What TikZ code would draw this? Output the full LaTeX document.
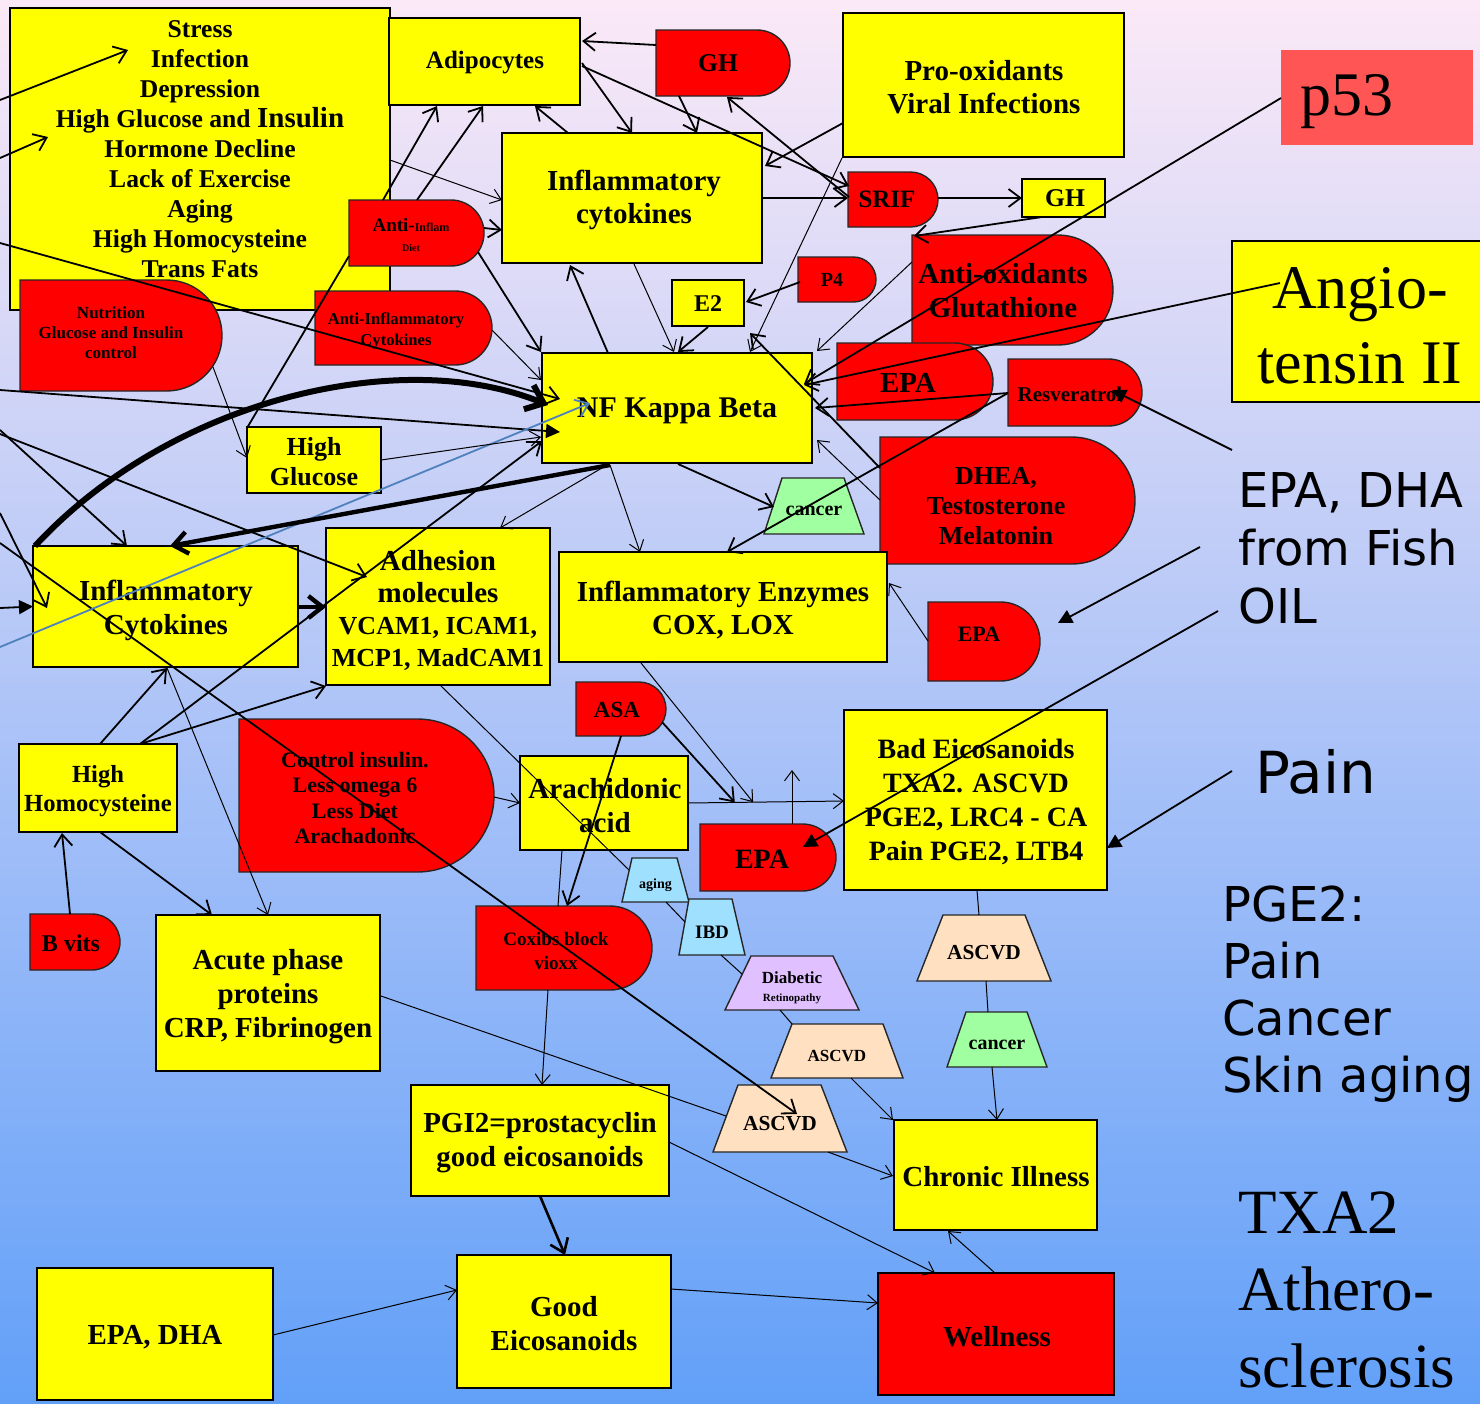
\documentclass[tikz,border=0pt]{standalone}
\usepackage{fontspec}
\setmainfont{Liberation Serif}
\setsansfont{DejaVu Sans}
\usetikzlibrary{calc,arrows.meta}
\definecolor{yel}{HTML}{FFFF00}
\definecolor{rd}{HTML}{FF0000}
\definecolor{p53c}{HTML}{FF5555}
\definecolor{grn}{HTML}{A0FFA0}
\definecolor{pch}{HTML}{FFE0C0}
\definecolor{lblu}{HTML}{A0E0FF}
\definecolor{lav}{HTML}{E0C0FF}
\definecolor{bline}{HTML}{4F81BD}
\definecolor{bgtop}{HTML}{FBE9F7}
\definecolor{bgmid}{HTML}{A6C9F3}
\definecolor{bgbot}{HTML}{62A0F8}
\newcommand\fsz[2]{\fontsize{#1}{#2}\selectfont}
% rectangle box: name, left, top, right, bottom, style, {text x,text y}, font, text
\newcommand\rbx[9]{%
  \path[bl,#6] (#2,#3) rectangle (#4,#5);
  \node[px={#4-#2}{#5-#3}] (#1) at ({(#2+#4)/2},{(#3+#5)/2}) {};
  \node[lab, font=\bfseries#8] (#1t) at (#7) {#9};}
% D shape (round right side)
\newcommand\dbx[9]{%
  \path[dl,#6] (#2,#3) -- ({#4-(#5-#3)/2},#3) arc[start angle=-90,end angle=90,radius={(#5-#3)/2}] -- (#2,#5) -- cycle;
  \node[px={#4-#2}{#5-#3}] (#1) at ({(#2+#4)/2},{(#3+#5)/2}) {};
  \node[lab, font=\bfseries#8] (#1t) at (#7) {#9};}
% trapezoid: name, top-left x, top-right x, bottom-left x, bottom-right x, top y, bottom y, style, text
\newcommand\tbx[9]{%
  \path[dl,#8] (#2,#6) -- (#3,#6) -- (#5,#7) -- (#4,#7) -- cycle;
  \node[px={#5-#4}{#7-#6}] (#1) at ({(#4+#5)/2},{(#6+#7)/2}) {};
  \node[lab] (#1t) at ({(#4+#5)/2},{(#6+#7)/2+5}) {#9};}
\begin{document}
\begin{tikzpicture}[x=0.5pt,y=-0.5pt,
  px/.style 2 args={minimum width={(#1)*0.5pt}, minimum height={(#2)*0.5pt}, inner sep=0pt, outer sep=0pt},
  lab/.style={inner sep=0pt, outer sep=0pt, align=center, font=\bfseries},
  bl/.style={draw=black, line width=1pt},
  dl/.style={draw=black!85, line width=0.7pt},
  ca/.style={line width=0.9pt, -{Straight Barb[length=6pt,width=9pt]}},
  ct/.style={line width=0.5pt, -{Straight Barb[length=5pt,width=7.5pt]}},
  cl/.style={line width=0.5pt},
  cmid/.style={line width=1.3pt, -{Straight Barb[length=6.5pt,width=9.5pt]}},
  ctri/.style={line width=0.9pt, -{Triangle[length=7pt,width=7pt]}},
  cblue/.style={line width=0.9pt, draw=bline, -{Straight Barb[length=6pt,width=9pt]}},
  cthick/.style={line width=3pt, -{Straight Barb[length=8pt,width=13pt]}},
  cthickb/.style={line width=2.2pt, -{Straight Barb[length=7pt,width=11pt]}}]
\useasboundingbox (0,0) rectangle (1480,1404);
\shade[top color=bgtop, middle color=bgmid, bottom color=bgbot] (0,0) rectangle (1480,1404);

% ---------- nodes ----------
\rbx{stress}{10}{8}{390}{310}{fill=yel}{200,149}{\fsz{12.8}{15}}{Stress\\Infection\\Depression\\High Glucose and {\fsz{14.5}{15}Insulin}\\Hormone Decline\\Lack of Exercise\\Aging\\High Homocysteine\\Trans Fats}
\rbx{adipo}{389}{18}{580}{105}{fill=yel}{485,63}{\fsz{12.5}{14}}{Adipocytes}
\dbx{ghtop}{656}{30}{790}{96}{fill=rd}{718,63}{\fsz{12.8}{14}}{GH}
\rbx{prox}{843}{13}{1124}{157}{fill=yel}{984,87}{\fsz{14.5}{16.5}}{Pro-oxidants\\Viral Infections}
\rbx{p53}{1281}{50}{1473}{145}{fill=p53c,draw=none}{1347,102}{\mdseries\fsz{31}{31}}{p53}
\rbx{iclu}{502}{133}{762}{263}{fill=yel}{634,200}{\fsz{14.5}{16.5}}{Inflammatory\\cytokines}
\dbx{srif}{848}{172}{938}{227}{fill=rd}{887,199}{\fsz{12.5}{14}}{SRIF}
\rbx{ghs}{1022}{179}{1105}{217}{fill=yel}{1065,198}{\fsz{12.8}{14}}{GH}
\dbx{aid}{349}{200}{484}{266}{fill=rd}{411,235}{\fsz{9.5}{10}}{Anti-{\fsz{6}{6}Inflam}\\{\fsz{5}{7}Diet}}
\dbx{aox}{912}{235}{1113}{345}{fill=rd}{1003,291}{\fsz{14.5}{17}}{Anti-oxidants\\Glutathione}
\rbx{angio}{1232}{241}{1492}{402}{fill=yel}{1360,326}{\mdseries\fsz{31}{37.5}}{Angio-\\tensin II}
\dbx{nutr}{20}{280}{222}{391}{fill=rd}{111,333}{\fsz{8.5}{10}}{Nutrition\\Glucose and Insulin\\control}
\dbx{aic}{315}{291}{492}{365}{fill=rd}{396,331}{\fsz{8.3}{10.5}}{Anti-Inflammatory\\Cytokines}
\dbx{p4}{798}{257}{876}{302}{fill=rd}{832,280}{\fsz{10}{11}}{P4}
\rbx{e2}{672}{280}{744}{326}{fill=yel}{708,304}{\fsz{12}{13}}{E2}
\rbx{nf}{542}{353}{812}{463}{fill=yel}{677,411}{\fsz{15}{16}}{NF Kappa Beta}
\dbx{epa1}{837}{343}{993}{420}{fill=rd}{908,383}{\fsz{14.5}{16}}{EPA}
\dbx{resv}{1008}{359}{1142}{426}{fill=rd}{1070,394}{\fsz{10.5}{12}}{Resveratrol}
\rbx{hglu}{247}{427}{381}{493}{fill=yel}{314,462}{\fsz{13}{15}}{High\\Glucose}
\dbx{dhea}{880}{437}{1135}{564}{fill=rd}{996,506}{\fsz{13}{15}}{DHEA,\\Testosterone\\Melatonin}
\tbx{cancer1}{782}{844}{764}{864}{478}{534}{fill=grn}{\fsz{10}{11}cancer}
\rbx{icl}{33}{546}{298}{667}{fill=yel}{166,610}{\fsz{14.5}{17}}{Inflammatory\\Cytokines}
\rbx{adh}{326}{528}{550}{685}{fill=yel}{438,610}{\fsz{14.5}{16}}{Adhesion\\molecules\\{\fsz{13}{15}VCAM1, ICAM1,}\\{\fsz{13}{15}MCP1, MadCAM1}}
\rbx{enz}{559}{552}{887}{662}{fill=yel}{723,610}{\fsz{14.5}{16.5}}{Inflammatory Enzymes\\COX, LOX}
\dbx{epa2}{928}{602}{1040}{681}{fill=rd}{979,634}{\fsz{11}{12}}{EPA}
\dbx{asa}{576}{682}{666}{736}{fill=rd}{617,710}{\fsz{11.5}{12}}{ASA}
\rbx{hhom}{19}{744}{177}{832}{fill=yel}{98,791}{\fsz{12.3}{14.5}}{High\\Homocysteine}
\dbx{ctrl}{239}{719}{494}{872}{fill=rd}{355,798}{\fsz{11}{12.8}}{Control insulin.\\Less omega 6\\Less Diet\\Arachadonic}
\rbx{arach}{520}{756}{688}{850}{fill=yel}{605,806}{\fsz{14.5}{17}}{Arachidonic\\acid}
\dbx{epa3}{700}{824}{836}{891}{fill=rd}{762,859}{\fsz{14}{15}}{EPA}
\rbx{bad}{844}{710}{1107}{890}{fill=yel}{976,802}{\fsz{14}{17}}{Bad Eicosanoids\\TXA2. ASCVD\\PGE2, LRC4 - CA\\Pain PGE2, LTB4}
\tbx{aging}{632}{677}{622}{689}{858}{902}{fill=lblu}{\fsz{7}{8}aging}
\tbx{ibd}{689}{732}{679}{745}{899}{955}{fill=lblu}{\fsz{9.5}{10}IBD}
\tbx{diab}{751}{833}{725}{859}{956}{1010}{fill=lav}{{\fsz{8.5}{9}Diabetic}\\[-3pt]{\fsz{5.5}{6.5}Retinopathy}}
\dbx{bvits}{30}{914}{120}{970}{fill=rd}{71,943}{\fsz{12}{13}}{B vits}
\rbx{acute}{156}{915}{380}{1071}{fill=yel}{268,997}{\fsz{14.5}{17}}{Acute phase\\proteins\\CRP, Fibrinogen}
\dbx{cox}{476}{906}{652}{990}{fill=rd}{556,951}{\fsz{9.5}{12}}{Coxibs block\\vioxx}
\tbx{ascvd1}{943}{1025}{917}{1051}{915}{981}{fill=pch}{\fsz{10.7}{12}ASCVD}
\tbx{cancer2}{966}{1027}{947}{1047}{1012}{1067}{fill=grn}{\fsz{10}{11}cancer}
\tbx{ascvd2}{792}{883}{771}{903}{1024}{1078}{fill=pch}{\fsz{8.5}{10}ASCVD}
\tbx{ascvd3}{738}{821}{713}{847}{1085}{1152}{fill=pch}{\fsz{10.7}{12}ASCVD}
\rbx{pgi}{411}{1085}{669}{1196}{fill=yel}{540,1143}{\fsz{14.5}{17}}{PGI2=prostacyclin\\good eicosanoids}
\rbx{chron}{894}{1120}{1097}{1230}{fill=yel}{996,1177}{\fsz{14.5}{16}}{Chronic Illness}
\rbx{epadha}{37}{1268}{273}{1400}{fill=yel}{155,1337}{\fsz{14.5}{16}}{EPA, DHA}
\rbx{good}{457}{1255}{671}{1388}{fill=yel}{564,1324}{\fsz{14.5}{17}}{Good\\Eicosanoids}
\rbx{well}{878}{1273}{1114}{1395}{fill=rd}{997,1337}{\fsz{14.5}{16}}{Wellness}

% free texts on the right
\node[anchor=west, align=left, inner sep=0pt, font=\sffamily\fsz{24}{29}] (fish) at (1238,548) {EPA, DHA\\from Fish\\OIL};
\node[anchor=west, align=left, inner sep=0pt, font=\sffamily\fsz{29}{30}] (pain) at (1255,772) {Pain};
\node[anchor=west, align=left, inner sep=0pt, font=\sffamily\fsz{24}{28.5}] (pge) at (1222,994) {PGE2:\\Pain\\Cancer\\Skin aging};
\node[anchor=west, align=left, inner sep=0pt, font=\fsz{31.5}{38.5}] (txa) at (1238,1290) {TXA2\\Athero-\\sclerosis};

% free ends
\coordinate (L1) at (0,100);
\coordinate (L2) at (0,158);
\coordinate (L3) at (0,243);
\coordinate (L4) at (0,390);
\coordinate (L5) at (0,430);
\coordinate (L6) at (0,434);
\coordinate (L7) at (0,513);
\coordinate (L8) at (0,543);
\coordinate (L9) at (0,608);
\coordinate (L10) at (0,647);
\coordinate (F1) at (1232,450);
\coordinate (F2) at (1200,547);
\coordinate (F3) at (1218,611);
\coordinate (F4) at (1232,771);

% ---------- connectors ----------
\draw[ca] (L1) -- ($(stress.north west)+(118,42)$);
\draw[ca] (L2) -- ($(stress.north west)+(38,129)$);
\draw[ca] (L3) -- ($(nf.north west)+(18,46)$);
\draw[ctri] (L4) -- ($(nf.north west)+(18,79)$);
\draw[ca] (L5) -- ($(icl.north west)+(94,0)$);
\draw[ca] (L6) -- ($(adh.north west)+(41,49)$);
\draw[ca] (L7) -- ($(icl.north west)+(14,62)$);
\draw[ca] (L8) -- ($(ascvd3.north west)+(84,29)$);
\draw[ctri] (L9) -- (icl.west);
\draw[cblue] (L10) -- ($(nf.north west)+(48,50)$);

\draw[cthick] ($(icl.north west)+(2,0)$) .. controls (170,400) and (400,345) .. ($(nf.north west)+(6,52)$);
\draw[cthickb] ($(nf.north west)+(68,112)$) -- ($(icl.north west)+(137,0)$);
\draw[cthickb] ($(icl.north west)+(265,61)$) -- ($(adh.north west)+(0,79)$);
\draw[ca] ($(hhom.north west)+(81,0)$) -- ($(icl.north west)+(134,122)$);
\draw[ca] ($(hhom.north west)+(121,0)$) -- ($(adh.north west)+(0,158)$);
\draw[ca] ($(hhom.north west)+(121,0)$) -- ($(nf.north west)+(0,88)$);
\draw[ct] ($(icl.north west)+(134,122)$) -- ($(acute.north west)+(112,0)$);
\draw[ca] ($(hhom.north west)+(81,88)$) -- ($(acute.north west)+(56,0)$);
\draw[ca] ($(bvits.north west)+(40,0)$) -- ($(hhom.north west)+(43,89)$);

\draw[cl] ($(adh.north west)+(114,157)$) -- ($(aging.north west)+(7,12)$);
\draw[cl] ($(aging.north west)+(44,44)$) -- ($(ibd.north west)+(6,23)$);
\draw[cl] ($(ibd.north west)+(42,56)$) -- ($(diab.north west)+(17,18)$);
\draw[cl] ($(diab.north west)+(55,54)$) -- ($(ascvd2.north west)+(21,0)$);
\draw[ct] ($(ascvd2.north west)+(80,54)$) -- ($(chron.north west)+(-1,0)$);
\draw[cl] ($(bad.north west)+(133,180)$) -- ($(ascvd1.north west)+(62,0)$);
\draw[cl] ($(ascvd1.north west)+(69,66)$) -- ($(cancer2.north west)+(41,0)$);
\draw[ct] ($(cancer2.north west)+(45,55)$) -- ($(chron.north west)+(103,0)$);
\draw[ct] ($(ascvd3.north west)+(115,67)$) -- ($(chron.north west)+(-1,56)$);
\draw[cl] ($(acute.north west)+(225,81)$) -- ($(ascvd3.north west)+(13,31)$);
\draw[ct] ($(pgi.north west)+(258,57)$) -- ($(well.north west)+(57,0)$);
\draw[ct] ($(well.north west)+(117,0)$) -- ($(chron.north west)+(54,111)$);
\draw[ct] ($(good.north west)+(214,34)$) -- ($(well.north west)+(0,30)$);
\draw[ct] ($(epadha.north west)+(236,67)$) -- ($(good.north west)+(0,35)$);
\draw[cmid] ($(pgi.north west)+(129,111)$) -- ($(good.north west)+(108,0)$);
\draw[ct] ($(cox.north west)+(72,84)$) -- ($(pgi.north west)+(131,0)$);
\draw[cl] ($(arach.north west)+(42,94)$) -- ($(cox.north west)+(82,0)$);
\draw[ca] ($(asa.north west)+(45,54)$) -- ($(cox.north west)+(91,0)$);
\draw[ct] ($(arach.north west)+(168,47)$) -- coordinate[pos=0.3] (ab1) coordinate[pos=0.417] (ab2) ($(bad.north west)+(0,91)$);
\draw[ca] ($(asa.north west)+(86,40)$) -- (ab1);
\draw[ct] ($(enz.north west)+(82,111)$) -- (ab2);
\draw[ct] ($(epa3.north west)+(92,0)$) -- ($(epa3.north west)+(92,-54)$);
\draw[ct] ($(ctrl.north west)+(255,78)$) -- ($(arach.north west)+(0,47)$);
\draw[ctri] (F3) -- ($(epa3.north west)+(103,23)$);
\draw[ctri] (F4) -- ($(bad.north west)+(263,138)$);
\draw[ctri] (F2) -- ($(epa2.north west)+(130,21)$);
\draw[ct] ($(epa2.north west)+(0,39)$) -- ($(enz.north west)+(330,31)$);
\draw[ctri] (F1) -- ($(resv.north west)+(104,31)$);

\draw[ca] ($(ghtop.north west)+(0,15)$) -- ($(adipo.north west)+(193,23)$);
\draw[ca] ($(adipo.north west)+(193,45)$) -- ($(iclu.north west)+(130,0)$);
\draw[ca] ($(adipo.north west)+(193,48)$) -- ($(srif.north west)+(1,14)$);
\draw[ca] ($(ghtop.north west)+(23,66)$) -- ($(iclu.north west)+(195,0)$);
\draw[ca] ($(iclu.north west)+(66,0)$) -- ($(adipo.north west)+(146,88)$);
\draw[ca] ($(srif.north west)+(1,25)$) -- ($(ghtop.north west)+(71,67)$);
\draw[ca] ($(prox.north west)+(0,110)$) -- ($(iclu.north west)+(263,33)$);
\draw[ca] ($(iclu.north west)+(260,65)$) -- ($(srif.north west)+(0,26)$);
\draw[ca] ($(srif.north west)+(90,26)$) -- ($(ghs.north west)+(0,19)$);
\draw[ca] ($(ghs.north west)+(20,38)$) -- ($(aox.north west)+(2,1)$);
\draw[ct] ($(prox.north west)+(-1,145)$) -- ($(nf.north west)+(208,-1)$);
\draw[ct] ($(iclu.north west)+(132,131)$) -- ($(nf.north west)+(132,-1)$);
\draw[ca] ($(nf.north west)+(66,0)$) -- ($(iclu.north west)+(68,132)$);
\draw[ca] ($(e2.north west)+(36,47)$) -- ($(nf.north west)+(136,-1)$);
\draw[ca] ($(p4.north west)+(2,25)$) -- ($(e2.north west)+(74,22)$);
\draw[ct] ($(aox.north west)+(0,27)$) -- ($(nf.north west)+(275,-2)$);
\draw[ca] ($(dhea.north west)+(0,31)$) -- ($(e2.north west)+(78,53)$);
\draw[ct] ($(dhea.north west)+(0,63)$) -- ($(nf.north west)+(275,87)$);
\draw[ca] ($(resv.north west)+(0,34)$) -- ($(nf.north west)+(273,55)$);
\draw[ca] ($(resv.north west)+(0,34)$) -- ($(enz.north west)+(168,0)$);
\draw[ca] ($(p53.north west)+(0,48)$) -- ($(nf.north west)+(262,31)$);
\draw[ca] ($(angio.north west)+(48,42)$) -- ($(nf.north west)+(262,32)$);
\draw[ca] ($(nf.north west)+(136,111)$) -- ($(cancer1.north west)+(10,29)$);
\draw[ct] ($(nf.north west)+(68,112)$) -- ($(enz.north west)+(81,0)$);
\draw[ct] ($(nf.north west)+(65,112)$) -- ($(adh.north west)+(174,0)$);
\draw[ca] ($(aid.north west)+(129,52)$) -- ($(nf.north west)+(-1,-1)$);
\draw[ca] ($(aid.north west)+(135,28)$) -- ($(iclu.north west)+(0,97)$);
\draw[ct] ($(stress.north west)+(380,152)$) -- ($(iclu.north west)+(0,67)$);
\draw[ct] ($(nutr.north west)+(193,87)$) -- ($(hglu.north west)+(0,31)$);
\draw[ct] ($(hglu.north west)+(134,33)$) -- ($(nf.north west)+(-1,84)$);
\draw[ct] ($(aic.north west)+(177,39)$) -- ($(nf.north west)+(-1,27)$);
\draw[cl, line width=0.9pt] ($(hglu.north west)+(0,1)$) -- ($(aid.north west)+(0,56)$);
\draw[ca] ($(aid.north west)+(34,0)$) -- ($(adipo.north west)+(48,88)$);
\draw[ca] ($(aid.north west)+(68,0)$) -- ($(adipo.north west)+(94,88)$);
\end{tikzpicture}
\end{document}
